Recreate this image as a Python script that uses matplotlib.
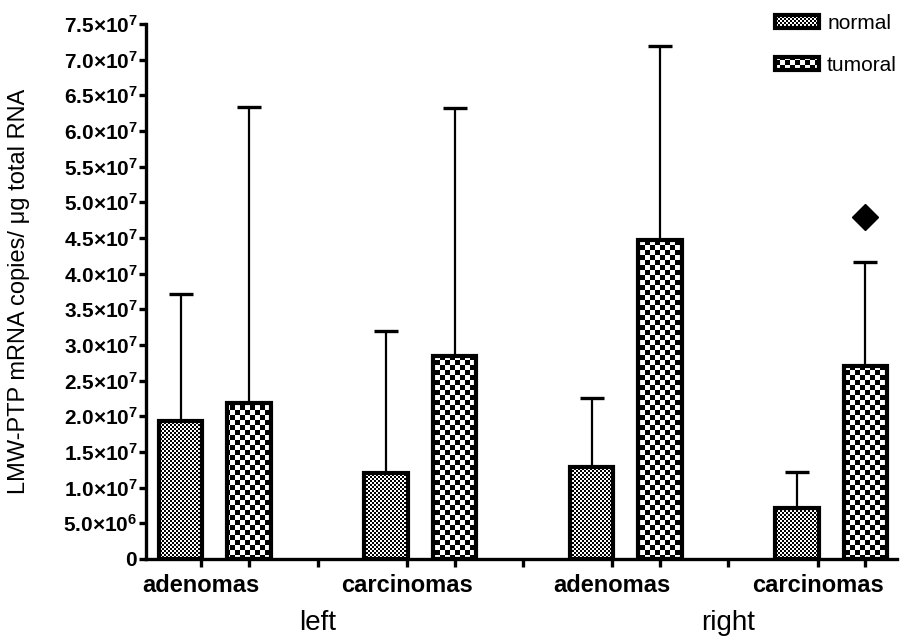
import warnings

import matplotlib
matplotlib.use("Agg")
import matplotlib.hatch as mhatch
import matplotlib.pyplot as plt
import numpy as np
from matplotlib.path import Path

warnings.filterwarnings("ignore", category=matplotlib.MatplotlibDeprecationWarning)

plt.rcParams["font.family"] = ["Liberation Sans", "DejaVu Sans"]
plt.rcParams["mathtext.fontset"] = "custom"
plt.rcParams["mathtext.rm"] = "Liberation Sans"
plt.rcParams["mathtext.bf"] = "Liberation Sans:bold"
plt.rcParams["hatch.linewidth"] = 0.0


# ---------------------------------------------------------------------------
# Checkerboard hatch ('f' = fine, 'c' = coarse)
# ---------------------------------------------------------------------------

class CheckerHatch(mhatch.HatchPatternBase):
    def __init__(self, hatch, density):
        if "f" in hatch:
            self.n = 50
        elif "c" in hatch:
            self.n = 20
        else:
            self.n = 0
        self.num_vertices = (self.n * self.n // 2) * 5

    def set_vertices_and_codes(self, vertices, codes):
        s = 1.0 / self.n
        sq = np.array([[0, 0], [s, 0], [s, s], [0, s], [0, 0]])
        parts = [sq + [i * s, j * s]
                 for i in range(self.n) for j in range(self.n) if (i + j) % 2 == 0]
        vertices[:] = np.concatenate(parts)
        one = [Path.MOVETO, Path.LINETO, Path.LINETO, Path.LINETO, Path.CLOSEPOLY]
        codes[:] = np.tile(one, len(parts))

    get_vertices_and_codes = set_vertices_and_codes


mhatch._hatch_types.append(CheckerHatch)


# ---------------------------------------------------------------------------
# Data
# ---------------------------------------------------------------------------

sides = ["left", "right"]
groups = ["adenomas", "carcinomas", "adenomas", "carcinomas"]

normal_mean = [1.93e7, 1.21e7, 1.29e7, 7.2e6]
normal_sd = [1.78e7, 1.99e7, 0.97e7, 0.50e7]
tumoral_mean = [2.19e7, 2.84e7, 4.47e7, 2.70e7]
tumoral_sd = [4.14e7, 3.48e7, 2.72e7, 1.46e7]

outlier_group = 3
outlier_value = 4.8e7

yticks = np.arange(0, 7.51e7, 5e6)


def ylabel_fmt(v):
    if v == 0:
        return r"$\mathbf{0}$"
    exp = int(np.floor(np.log10(v)))
    return r"$\mathbf{%.1f{\times}10^{%d}}$" % (v / 10 ** exp, exp)


# ---------------------------------------------------------------------------
# Plot
# ---------------------------------------------------------------------------

fig = plt.figure(figsize=(9.01, 6.38), dpi=100)
ax = fig.add_axes([146 / 901, 1 - 559 / 638, 751 / 901, 535 / 638])

x_norm = np.arange(len(groups)) * 3.0
x_tum = x_norm + 1.0
width = 0.64

ax.errorbar(x_norm, normal_mean, yerr=[np.zeros(len(groups)), normal_sd],
            fmt="none", ecolor="black", elinewidth=1.6, capsize=8.5, capthick=2.4, zorder=1)
ax.errorbar(x_tum, tumoral_mean, yerr=[np.zeros(len(groups)), tumoral_sd],
            fmt="none", ecolor="black", elinewidth=1.6, capsize=8.5, capthick=2.4, zorder=1)

ax.bar(x_norm, normal_mean, width, color="white", edgecolor="black",
       linewidth=3, hatch="f", label="normal", zorder=2)
ax.bar(x_tum, tumoral_mean, width, color="white", edgecolor="black",
       linewidth=3, hatch="c", label="tumoral", zorder=2)

ax.plot(x_tum[outlier_group], outlier_value, marker="D", color="black",
        markersize=13.5, linestyle="none", zorder=3)

ax.set_ylim(0, 7.5e7)
ax.set_xlim(-0.504, 10.46)
ax.set_yticks(yticks)
ax.set_yticklabels([ylabel_fmt(v) for v in yticks], fontsize=15)

label_pos = x_norm + 0.3
sep_pos = (x_tum[:-1] + x_norm[1:]) / 2
ax.set_xticks(label_pos)
ax.set_xticklabels(groups, fontsize=17, fontweight="bold")
ax.set_xticks(np.concatenate([x_tum, sep_pos]), minor=True)

for side in ["top", "right"]:
    ax.spines[side].set_visible(False)
for side in ["left", "bottom"]:
    ax.spines[side].set_linewidth(2.4)

ax.tick_params(axis="y", length=5, width=2.4, pad=1)
ax.tick_params(axis="x", which="both", length=6, width=2.4, pad=5)

ax.set_ylabel("LMW-PTP mRNA copies/ \u03bcg total RNA", fontsize=17)
ax.yaxis.set_label_coords(-0.155, 0.5)

for i, side in enumerate(sides):
    ax.text(sep_pos[i * 2], -0.12, side, fontsize=20,
            ha="center", va="center", transform=ax.get_xaxis_transform())

fig.legend(loc="upper left", bbox_to_anchor=(775 / 901, 1 - 14 / 638),
           frameon=False, fontsize=15, handlelength=2.1, handleheight=0.6,
           handletextpad=0.4, labelspacing=1.1, borderpad=0, borderaxespad=0)

fig.savefig("out.png", dpi=100)
